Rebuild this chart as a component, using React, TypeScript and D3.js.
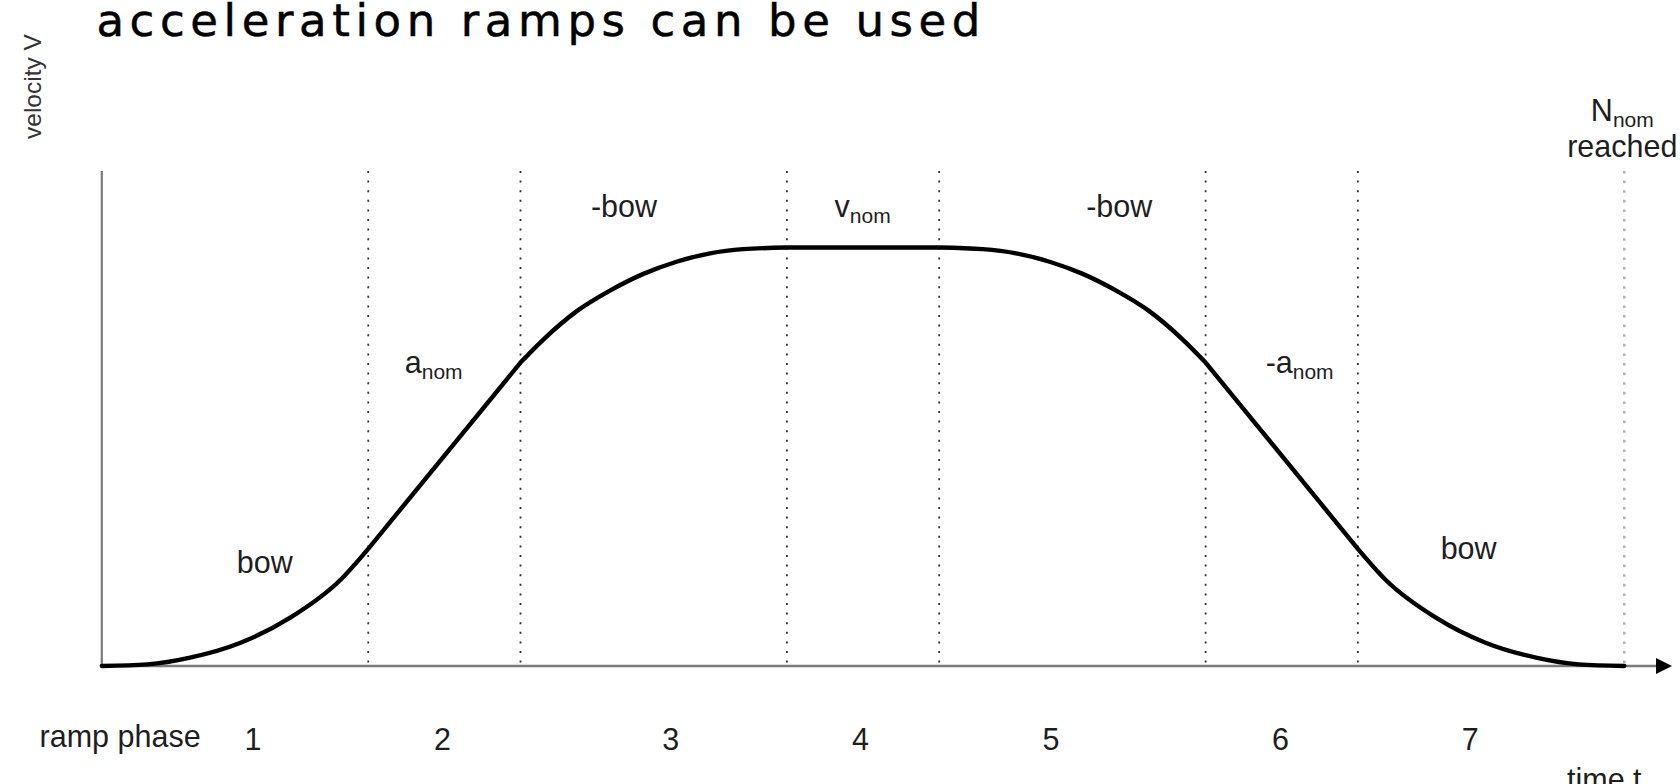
import React from "react";
import * as d3 from "d3";

// Ramp phases of a jerk-limited (S-curve) velocity profile
const phaseNames = ["1", "2", "3", "4", "5", "6", "7"];
const phaseDurations = [7, 4, 7, 4, 7, 4, 7];

// Velocity profile, time in arbitrary units, velocity relative to v_nom
const profileTime = [
  0, 1.2, 2.32, 3.63, 4.94, 6.26, 7,
  11,
  11.6, 12.48, 13.35, 14.23, 15.1, 15.98, 16.85, 18,
  22,
  23.15, 24.02, 24.9, 25.77, 26.65, 27.52, 28.4, 29,
  33,
  33.74, 35.06, 36.37, 37.68, 38.8, 40,
];
const profileVelocity = [
  0, 0.004, 0.02, 0.055, 0.115, 0.205, 0.28,
  0.725,
  0.78, 0.848, 0.897, 0.937, 0.966, 0.986, 0.996, 1,
  1,
  0.996, 0.986, 0.966, 0.937, 0.897, 0.848, 0.78, 0.725,
  0.28,
  0.205, 0.115, 0.055, 0.02, 0.004, 0,
];

// Per-phase annotation: main text and optional subscript
const phaseSymbols = ["bow", "a", "-bow", "v", "-bow", "-a", "bow"];
const phaseSubscripts = ["", "nom", "", "nom", "", "nom", ""];

const W = 1680;
const H = 784;

export default function App() {
  const boundaries = Array.from(d3.cumsum(phaseDurations));
  const starts = [0, ...boundaries.slice(0, -1)];
  const tEnd = boundaries[boundaries.length - 1];

  const x = d3.scaleLinear().domain([0, tEnd]).range([101.8, 1624.3]);
  const y = d3.scaleLinear().domain([0, 1]).range([666, 247.5]);

  const pts = profileTime.map((t, i) => [t, profileVelocity[i]] as [number, number]);
  const line = d3
    .line<[number, number]>()
    .x((d) => x(d[0]))
    .y((d) => y(d[1]))
    .curve(d3.curveMonotoneX);

  // one smooth segment per ramp phase, joined end to end
  const segments = starts.map((s, i) =>
    pts.filter((p) => p[0] >= s - 1e-9 && p[0] <= boundaries[i] + 1e-9)
  );
  const profilePath = segments
    .map((seg, i) => {
      const d = line(seg) ?? "";
      return i === 0 ? d : d.replace(/^M/, "L");
    })
    .join("");

  // layout of the annotations (time, velocity) for each phase
  const annotAt: [number, number][] = [
    [4.28, 0.222],
    [8.72, 0.7],
    [13.72, 1.072],
    [19.99, 1.072],
    [26.73, 1.072],
    [31.47, 0.7],
    [35.91, 0.256],
  ];
  const phaseLabelT = [3.97, 8.95, 14.95, 19.93, 24.94, 30.97, 35.95];

  const font = "'Liberation Sans', Arial, sans-serif";
  const textColor = "#1e1e1e";
  const labelSize = 30.5;
  const subSize = 21;
  const axisTop = 171;
  const x0 = x(0);
  const yBase = y(0);

  return (
    <svg
      width={W}
      height={H}
      viewBox={`0 0 ${W} ${H}`}
      style={{ position: "fixed", left: 0, top: 0, background: "#fff" }}
    >
      <rect width={W} height={H} fill="#fff" />

      {/* title */}
      <text
        x={96.4}
        y={36}
        fontFamily="'DejaVu Sans', 'Noto Sans', sans-serif"
        fontSize={45}
        fill="#000"
        stroke="#000"
        strokeWidth={0.5}
        textLength={884}
        lengthAdjust="spacing"
      >
        acceleration ramps can be used
      </text>

      {/* y label */}
      <text
        transform={`translate(41,139) rotate(-90)`}
        fontFamily={font}
        fontSize={24.5}
        fill="#333"
      >
        velocity V
      </text>

      {/* phase boundaries */}
      {boundaries.map((b, i) => {
        const last = i === boundaries.length - 1;
        return (
          <line
            key={i}
            x1={x(b)}
            x2={x(b)}
            y1={axisTop}
            y2={yBase}
            stroke={last ? "#b4b4b4" : "#2e2e2e"}
            strokeWidth={last ? 2.6 : 1.8}
            strokeDasharray={last ? "2.6 7" : "2 7.6"}
          />
        );
      })}

      {/* axes */}
      <line x1={x0} x2={x0} y1={axisTop} y2={yBase + 1} stroke="#7a7a7a" strokeWidth={2.2} />
      <line x1={x0 - 1} x2={1660} y1={yBase} y2={yBase} stroke="#7a7a7a" strokeWidth={2.6} />
      <path
        d={`M${1672},${yBase} L${1656},${yBase - 8} L${1656},${yBase + 8} Z`}
        fill="#000"
      />

      {/* velocity profile */}
      <path
        d={profilePath}
        fill="none"
        stroke="#000"
        strokeWidth={4.4}
        strokeLinecap="round"
        strokeLinejoin="round"
      />

      {/* phase annotations */}
      {phaseSymbols.map((s, i) => (
        <text
          key={i}
          x={x(annotAt[i][0])}
          y={y(annotAt[i][1])}
          textAnchor="middle"
          fontFamily={font}
          fontSize={labelSize}
          fill={textColor}
        >
          {s}
          {phaseSubscripts[i] && (
            <tspan fontSize={subSize} dy={6}>
              {phaseSubscripts[i]}
            </tspan>
          )}
        </text>
      ))}

      {/* end marker */}
      <text x={x(tEnd) - 2} y={121} textAnchor="middle" fontFamily={font} fontSize={labelSize} fill={textColor}>
        N
        <tspan fontSize={subSize} dy={6}>nom</tspan>
      </text>
      <text x={x(tEnd) - 2} y={156.5} textAnchor="middle" fontFamily={font} fontSize={labelSize} fill={textColor}>
        reached
      </text>

      {/* ramp phase row */}
      <text x={39.6} y={747} fontFamily={font} fontSize={labelSize} fill={textColor}>
        ramp phase
      </text>
      {phaseNames.map((p, i) => (
        <text
          key={p}
          x={x(phaseLabelT[i])}
          y={750}
          textAnchor="middle"
          fontFamily={font}
          fontSize={labelSize}
          fill={textColor}
        >
          {p}
        </text>
      ))}

      {/* time axis label */}
      <text x={1567} y={790} fontFamily={font} fontSize={labelSize} fill={textColor}>
        time t
      </text>
    </svg>
  );
}
